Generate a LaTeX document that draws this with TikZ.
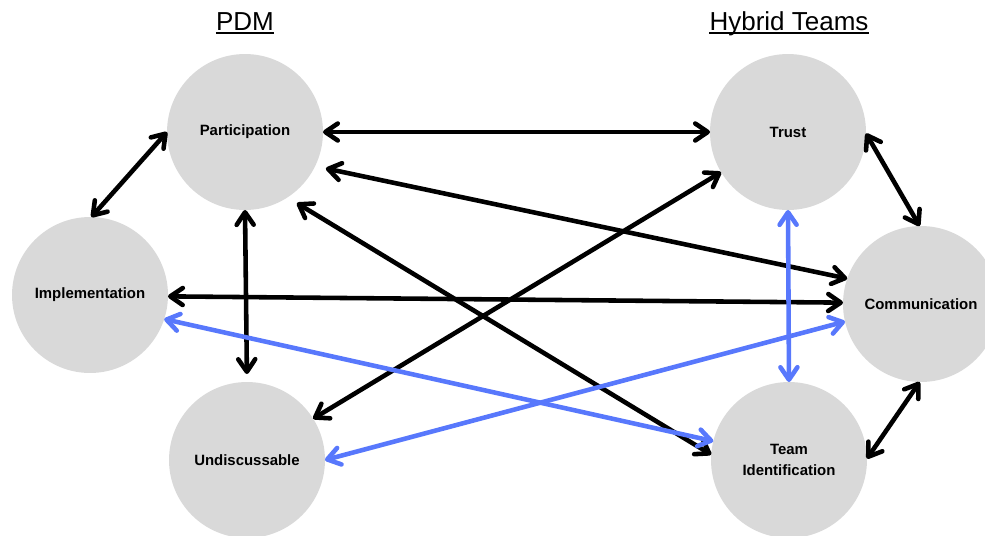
\documentclass[tikz,border=0pt]{standalone}
\usepackage{fontspec}
\setmainfont{Liberation Sans}
\usepackage{xcolor}
\usepackage{tikz}
\usetikzlibrary{positioning, shapes}
\usetikzlibrary{arrows.meta}
\definecolor{circgray}{RGB}{217,217,217}
\definecolor{linkblue}{RGB}{88,120,252}

\begin{document}
\begin{tikzpicture}[x=0.02cm,y=-0.02cm]
            \tikzset{factor/.style = {circle, fill=circgray, minimum size=3.12cm, inner sep=0pt, outer sep=0pt, align=center, font=\fontsize{8.5}{12}\selectfont\bfseries}}
            \tikzset{heading/.style = {inner sep=0pt, anchor=base, font=\fontsize{14.8}{16}\selectfont}}
            \tikzset{link/.style = {{Straight Barb[length=2.5mm,width=3.4mm,line cap=round,line join=round]}-{Straight Barb[length=2.5mm,width=3.4mm,line cap=round,line join=round]}, line width=2.6pt, line cap=round}}
            \useasboundingbox (0,0) rectangle (985,535);

            \node[heading] (pdm) at (245,30) {PDM};
            \node[heading] (hybrid) at (789,30) {Hybrid Teams};
            \draw[line width=0.04cm] ([yshift=-0.06cm]pdm.base west) -- ([yshift=-0.06cm]pdm.base east);
            \draw[line width=0.04cm] ([yshift=-0.06cm]hybrid.base west) -- ([yshift=-0.06cm]hybrid.base east);

            \node[factor] (part) at (245,132) {Participation};
            \node[factor] (impl) at (90,295) {Implementation};
            \node[factor] (undisc) at (247,460) {Undiscussable};
            \node[factor] (trust) at (788,132) {Trust};
            \node[factor] (comm) at (921,304) {Communication};
            \node[factor] (teamid) at (789,460) {Team\\Identification};

            % PDM side
            \draw[link] (part.180) -- (impl.89);
            \draw[link, shorten >=0.16cm] (part.-90) -- (undisc.90);

            % across
            \draw[link] (part.0) -- (trust.180);
            \draw[link, shorten <=0.22cm] (part.-26) -- (comm.161);
            \draw[link, shorten <=0.22cm] (part.-57) -- (teamid.176);
            \draw[link] (impl.-1.5) -- (comm.179.3);
            \draw[link] (undisc.32.3) -- (trust.211.8);
            \draw[link, linkblue] (impl.-18.4) -- (teamid.166);
            \draw[link, linkblue] (undisc.0.7) -- (comm.193.2);

            % Hybrid Teams side
            \draw[link] (trust.-1.5) -- (comm.91.5);
            \draw[link, linkblue] (trust.-90) -- (teamid.90);
            \draw[link] (comm.-91.5) -- (teamid.1.5);

        \end{tikzpicture}
\end{document}
